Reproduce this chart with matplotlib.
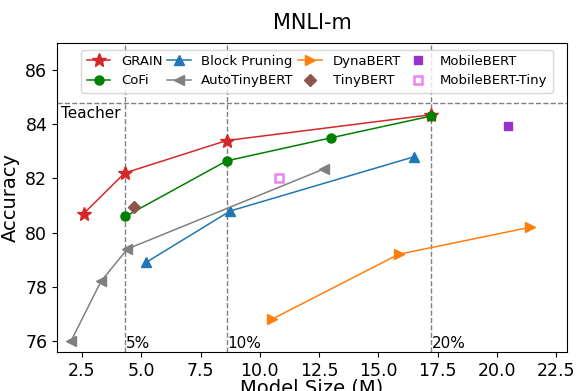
import matplotlib
matplotlib.use("Agg")
import matplotlib.pyplot as plt

# model sizes (M) and MNLI-m accuracy
grain_x = [2.57, 4.3, 8.6, 17.2]
grain_y = [80.7, 82.2, 83.4, 84.35]

cofi_x = [4.33, 8.6, 13.0, 17.2]
cofi_y = [80.6, 82.65, 83.5, 84.3]

block_x = [5.2, 8.75, 16.5]
block_y = [78.9, 80.8, 82.8]

auto_x = [2.04, 3.3, 4.42, 12.7]
auto_y = [76.0, 78.2, 79.4, 82.35]

dyna_x = [10.5, 15.85, 21.4]
dyna_y = [76.8, 79.2, 80.2]

tiny_x, tiny_y = [4.71], [80.93]
mobile_x, mobile_y = [20.45], [83.95]
mtiny_x, mtiny_y = [10.8], [82.03]

teacher = 84.8
budgets = [4.3, 8.6, 17.2]
budget_labels = ["5%", "10%", "20%"]

fig, ax = plt.subplots(figsize=(5.82, 3.91), dpi=100)
fig.subplots_adjust(left=0.098, right=0.974, top=0.89, bottom=0.10)

# teacher line and budget lines
ax.axhline(teacher, color="gray", linestyle="--", linewidth=1, zorder=0)
ax.text(1.6, teacher - 0.12, "Teacher", ha="left", va="top", fontsize=11)
for b, lab in zip(budgets, budget_labels):
    ax.axvline(b, color="gray", linestyle="--", linewidth=1, zorder=0)
    ax.text(b + 0.05, 75.65, lab, ha="left", va="bottom", fontsize=11)

ax.plot(grain_x, grain_y, color="tab:red", marker="*", markersize=10.5, linewidth=1.1, label="GRAIN")
ax.plot(cofi_x, cofi_y, color="green", marker="o", markersize=6.5, linewidth=1.1, label="CoFi")
ax.plot(block_x, block_y, color="tab:blue", marker="^", markersize=7, linewidth=1.1, label="Block Pruning")
ax.plot(auto_x, auto_y, color="gray", marker="<", markersize=7, linewidth=1.1, label="AutoTinyBERT")
ax.plot(dyna_x, dyna_y, color="tab:orange", marker=">", markersize=7, linewidth=1.1, label="DynaBERT")
ax.plot(tiny_x, tiny_y, color="tab:brown", marker="D", markersize=6, linestyle="none", label="TinyBERT")
ax.plot(mobile_x, mobile_y, color="darkorchid", marker="s", markersize=6, linestyle="none", label="MobileBERT")
ax.plot(mtiny_x, mtiny_y, color="violet", marker="s", markersize=6, markerfacecolor="white",
        markeredgewidth=1.8, linestyle="none", label="MobileBERT-Tiny")

ax.set_xlim(1.45, 22.95)
ax.set_ylim(75.6, 87.0)
ax.set_xticks([2.5, 5.0, 7.5, 10.0, 12.5, 15.0, 17.5, 20.0, 22.5])
ax.tick_params(labelsize=12.5)
ax.set_xlabel("Model Size (M)", fontsize=14, labelpad=-0.5)
ax.set_ylabel("Accuracy", fontsize=14)
ax.set_title("MNLI-m", fontsize=15, pad=10)

ax.legend(ncol=4, loc="upper center", bbox_to_anchor=(0.51, 1.0), fontsize=9.5,
          columnspacing=0.35, handlelength=1.8, handletextpad=0.8, borderpad=0.4)

fig.savefig("out.png", dpi=100)
